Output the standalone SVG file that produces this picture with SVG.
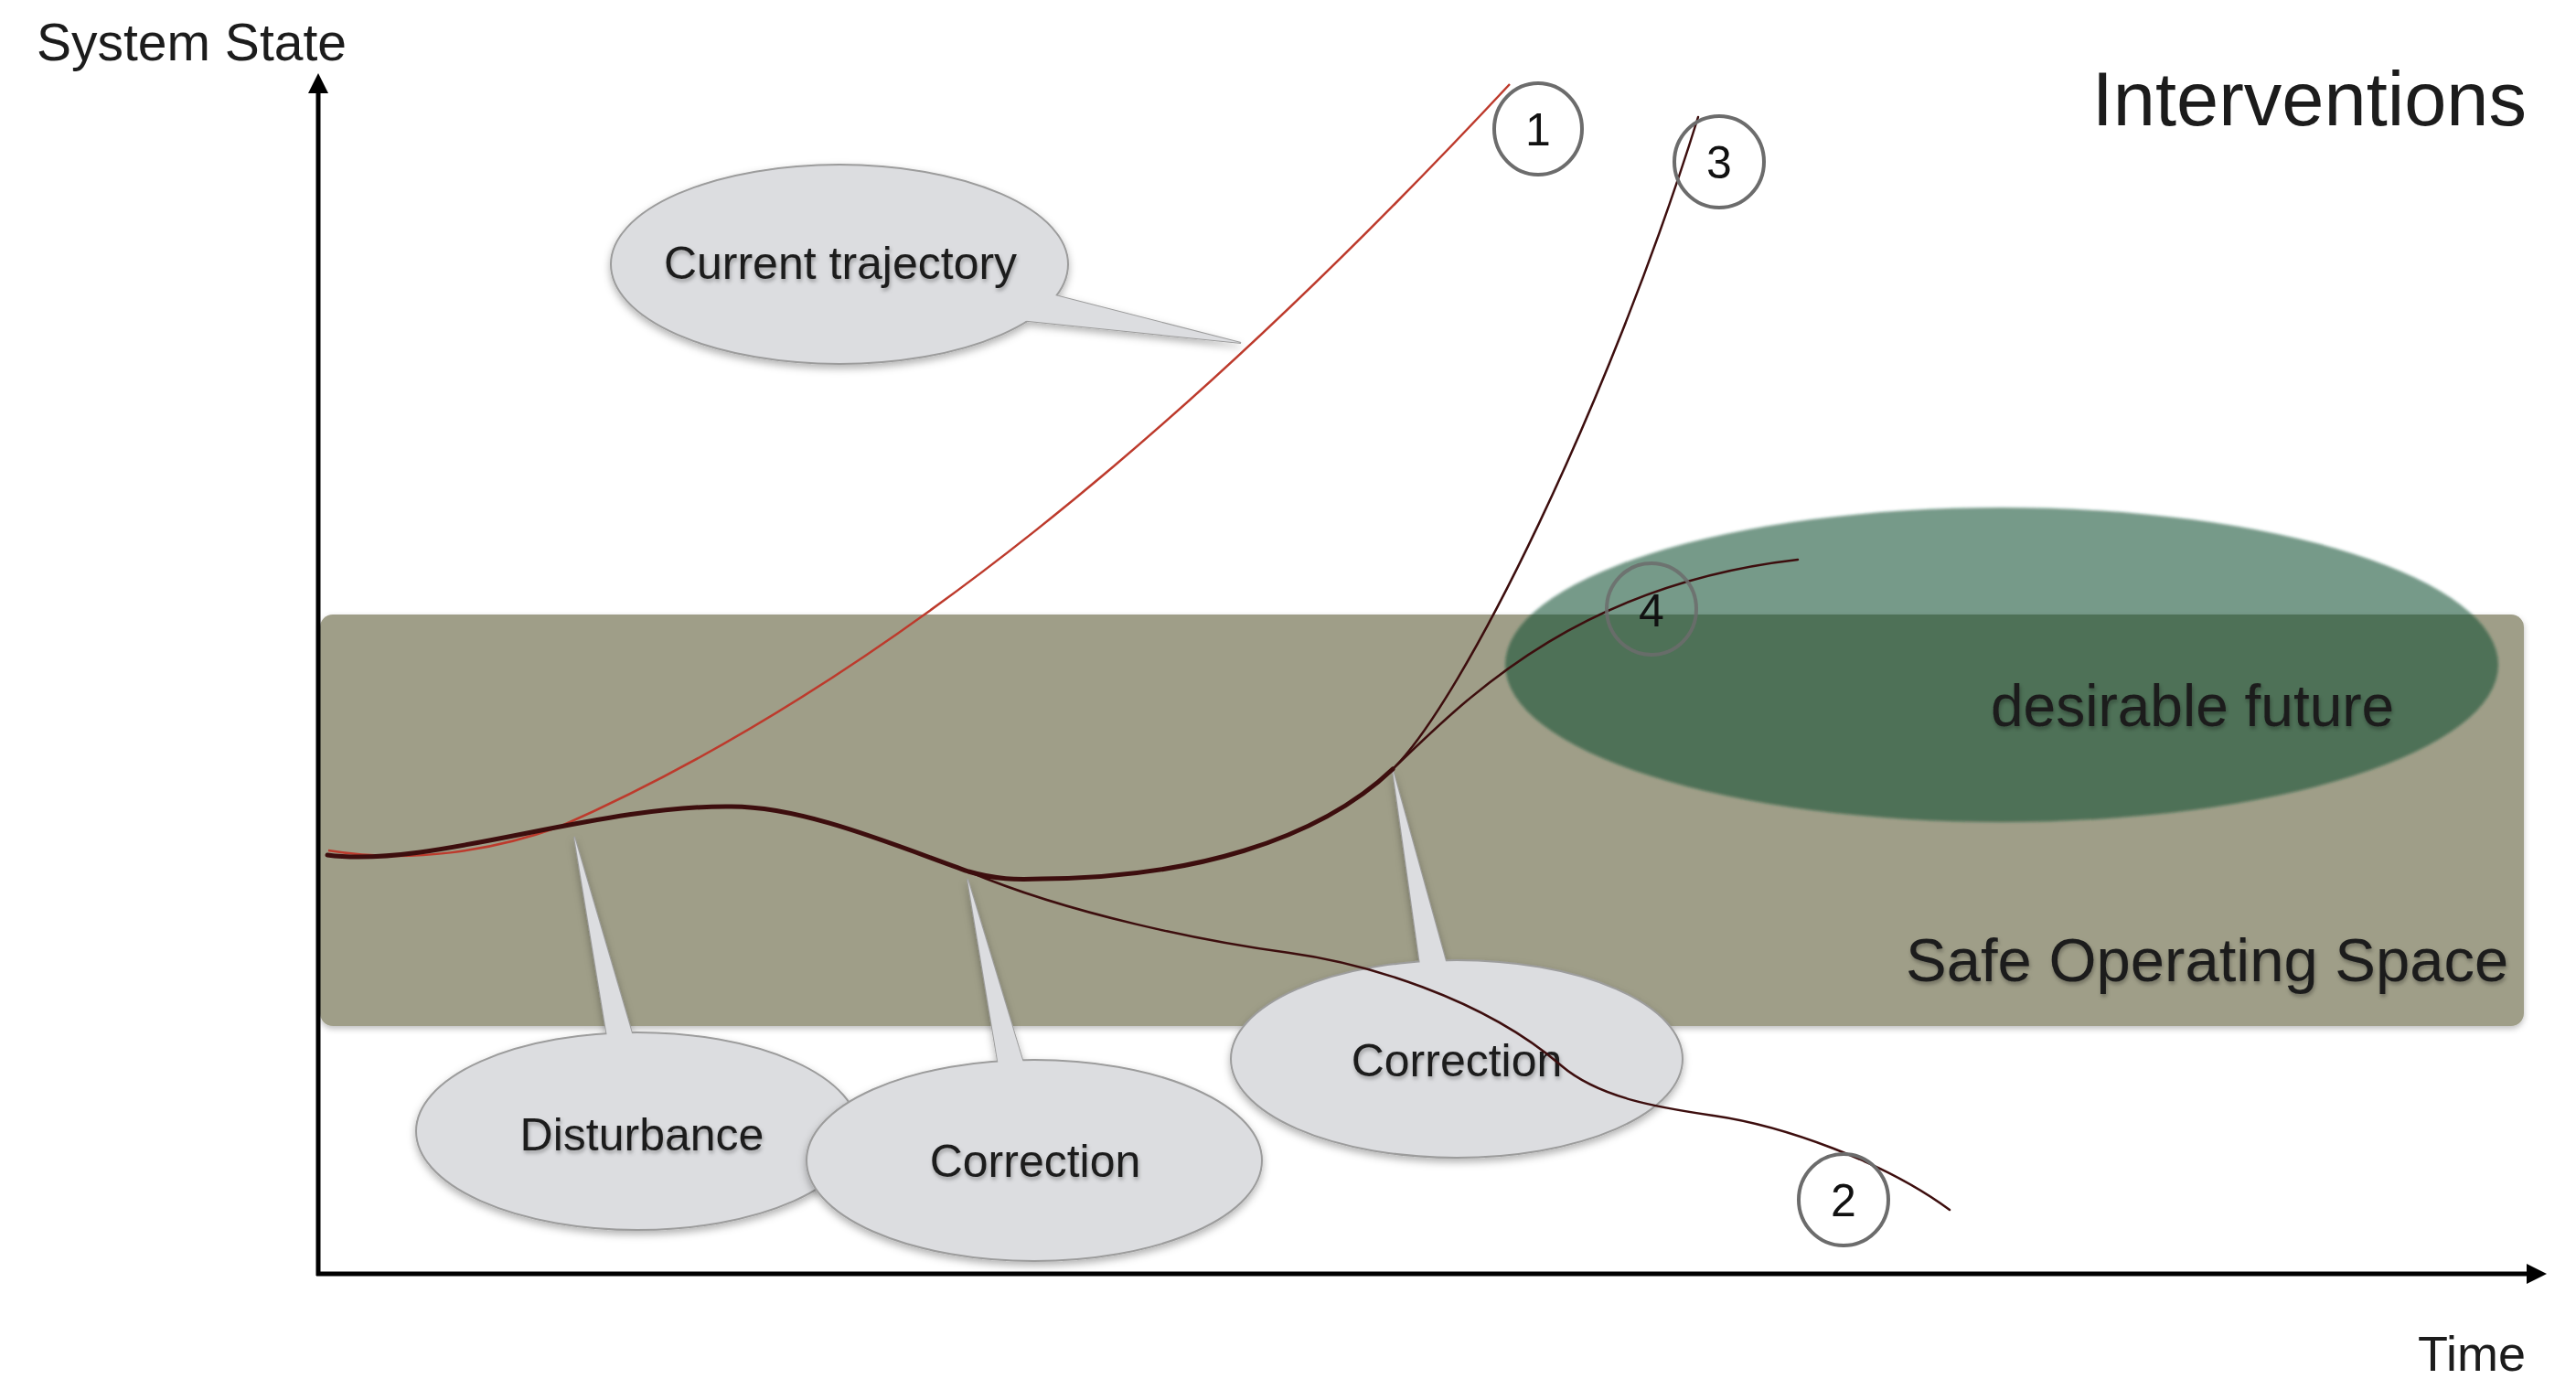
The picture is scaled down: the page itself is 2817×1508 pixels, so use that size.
<svg xmlns="http://www.w3.org/2000/svg" width="2817" height="1508" viewBox="0 0 2817 1508">
  <defs>
    <style>
      .label { font-family: "Liberation Sans", Arial, sans-serif; fill: #1c1c1c; }
      .axis { fill: none; stroke: #000; stroke-width: 5; }
      .bubble { fill: #dcdde0; stroke: #9c9c9c; stroke-width: 2; }
      .bubble-fill { fill: #dcdde0; stroke: none; }
      .bubble-text { font-family: "Liberation Sans", Arial, sans-serif; font-size: 50px; fill: #1e1e1e; text-anchor: middle; }
      .ring { fill: none; stroke: #6c6c6c; stroke-width: 4; }
      .ring-num { font-family: "Liberation Sans", Arial, sans-serif; font-size: 50px; fill: #111; text-anchor: middle; }
      .traj { fill: none; stroke: #3d0e0e; stroke-linecap: round; stroke-linejoin: round; }
    </style>
    <marker id="arrow" viewBox="0 0 22 22" markerUnits="userSpaceOnUse" markerWidth="22" markerHeight="22" refX="4" refY="11" orient="auto">
      <path d="M0,0 L22,11 L0,22 z" fill="#000"/>
    </marker>
    <filter id="bubbleShadow" x="-20%" y="-20%" width="140%" height="150%">
      <feDropShadow dx="0" dy="4" stdDeviation="4" flood-color="#000" flood-opacity="0.3"/>
    </filter>
    <filter id="softShadow" x="-5%" y="-10%" width="110%" height="125%">
      <feDropShadow dx="0" dy="3" stdDeviation="3" flood-color="#000" flood-opacity="0.25"/>
    </filter>
    <filter id="textShadow" x="-10%" y="-30%" width="120%" height="170%">
      <feDropShadow dx="1" dy="3" stdDeviation="2" flood-color="#000" flood-opacity="0.3"/>
    </filter>
    <filter id="soften" x="-5%" y="-10%" width="110%" height="120%">
      <feGaussianBlur stdDeviation="1.5"/>
    </filter>
  </defs>

  <rect width="2817" height="1508" fill="#ffffff"/>

  <!-- safe operating space band -->
  <g id="safe-operating-space">
    <rect x="350" y="672" width="2410" height="450" rx="14" fill="#9f9e88" filter="url(#softShadow)"/>
    <text class="label" x="2084" y="1073" font-size="67" filter="url(#textShadow)">Safe Operating Space</text>
  </g>

  <!-- desirable future region -->
  <g id="desirable-future">
    <ellipse cx="2189" cy="727" rx="543" ry="172" fill="#155135" fill-opacity="0.58" filter="url(#soften)"/>
    <text class="label" x="2177" y="794" font-size="64" filter="url(#textShadow)">desirable future</text>
  </g>

  <!-- callouts -->
  <g id="callout-current-trajectory">
    <g filter="url(#bubbleShadow)">
      <polygon class="bubble" points="1150,322 1357,375 1115,350"/>
      <ellipse class="bubble" cx="918" cy="289" rx="250" ry="109"/>
      <polygon class="bubble-fill" points="1150,322 1357,375 1115,350"/>
    </g>
    <text class="bubble-text" x="919" y="305" filter="url(#textShadow)">Current trajectory</text>
  </g>

  <g id="callout-disturbance">
    <g filter="url(#bubbleShadow)">
      <polygon class="bubble" points="628,915 694,1140 665,1140"/>
      <ellipse class="bubble" cx="697" cy="1237" rx="242" ry="108"/>
      <polygon class="bubble-fill" points="628,915 694,1140 665,1140"/>
    </g>
    <text class="bubble-text" x="702" y="1258" filter="url(#textShadow)">Disturbance</text>
  </g>

  <g id="callout-correction-1">
    <g filter="url(#bubbleShadow)">
      <polygon class="bubble" points="1058,961 1122,1172 1093,1172"/>
      <ellipse class="bubble" cx="1131" cy="1269" rx="249" ry="110"/>
      <polygon class="bubble-fill" points="1058,961 1122,1172 1093,1172"/>
    </g>
    <text class="bubble-text" x="1132" y="1287" filter="url(#textShadow)">Correction</text>
  </g>

  <g id="callout-correction-2">
    <g filter="url(#bubbleShadow)">
      <polygon class="bubble" points="1523,842 1584,1062 1554,1062"/>
      <ellipse class="bubble" cx="1593" cy="1158" rx="247" ry="108"/>
      <polygon class="bubble-fill" points="1523,842 1584,1062 1554,1062"/>
    </g>
    <text class="bubble-text" x="1593" y="1177" filter="url(#textShadow)">Correction</text>
  </g>

  <!-- trajectories -->
  <g id="trajectories">
    <path id="traj-current" d="M359 930 C450 945 540 930 612 904 C962 750 1301 467 1651 92" fill="none" stroke="#bd3a2c" stroke-width="2.5"/>
    <path id="traj-trunk" class="traj" stroke-width="5" d="M358 935 C470 950 650 880 800 882 C880 882 980 925 1059 953 C1090 962 1110 962 1140 961 C1300 960 1440 920 1523 841"/>
    <path id="traj-2" class="traj" stroke-width="2.5" d="M1059 953 C1170 1000 1320 1030 1410 1042 C1490 1053 1620 1090 1707 1165 C1750 1202 1820 1212 1874 1220 C1950 1231 2060 1270 2132 1323"/>
    <path id="traj-3" class="traj" stroke-width="2.5" d="M1523 841 C1600 766 1760 440 1857 128"/>
    <path id="traj-4" class="traj" stroke-width="2.5" d="M1523 841 C1600 768 1720 640 1966 612"/>
  </g>

  <!-- numbered markers -->
  <g id="marker-1">
    <ellipse class="ring" cx="1682" cy="141" rx="48" ry="50"/>
    <text class="ring-num" x="1682" y="159">1</text>
  </g>
  <g id="marker-2">
    <ellipse class="ring" cx="2016" cy="1312" rx="49" ry="50"/>
    <text class="ring-num" x="2016" y="1330">2</text>
  </g>
  <g id="marker-3">
    <ellipse class="ring" cx="1880" cy="177" rx="49" ry="50"/>
    <text class="ring-num" x="1880" y="195">3</text>
  </g>
  <g id="marker-4">
    <ellipse class="ring" cx="1806" cy="666" rx="49" ry="50" stroke="#7d7d7d" stroke-opacity="0.85"/>
    <text class="ring-num" x="1806" y="685">4</text>
  </g>

  <!-- axes -->
  <g id="axes">
    <path class="axis" d="M348 1395 L348 98" marker-end="url(#arrow)"/>
    <path class="axis" d="M346 1393 L2767 1393" marker-end="url(#arrow)"/>
    <text class="label" x="40" y="66" font-size="57">System State</text>
    <text class="label" x="2762" y="1499" font-size="54" text-anchor="end">Time</text>
  </g>

  <g id="title">
    <text class="label" x="2763" y="137" font-size="83" text-anchor="end">Interventions</text>
  </g>
</svg>
